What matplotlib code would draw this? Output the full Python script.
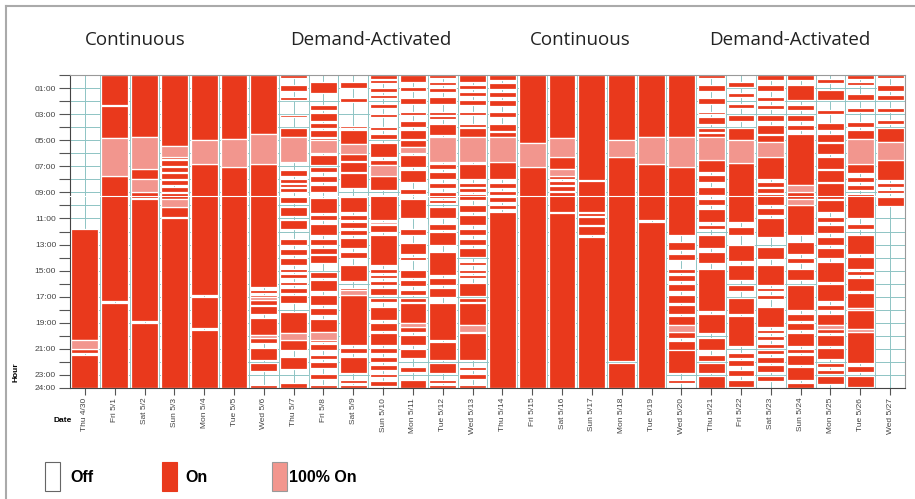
import matplotlib.pyplot as plt
import matplotlib.patches as mpatches
from matplotlib.lines import Line2D

# days along the x axis
dates = ['Thu 4/30', 'Fri 5/1', 'Sat 5/2', 'Sun 5/3', 'Mon 5/4', 'Tue 5/5', 'Wed 5/6',
         'Thu 5/7', 'Fri 5/8', 'Sat 5/9', 'Sun 5/10', 'Mon 5/11', 'Tue 5/12', 'Wed 5/13',
         'Thu 5/14', 'Fri 5/15', 'Sat 5/16', 'Sun 5/17', 'Mon 5/18', 'Tue 5/19', 'Wed 5/20',
         'Thu 5/21', 'Fri 5/22', 'Sat 5/23', 'Sun 5/24', 'Mon 5/25', 'Tue 5/26', 'Wed 5/27']

# "On" periods per day, (start hour, end hour)
on_periods = [
    [(11.8, 20.35), (21.0, 21.35), (21.45, 24)],
    [(0, 2.3), (2.4, 4.8), (7.75, 17.35), (17.45, 24)],
    [(0, 4.75), (7.2, 8.0), (9.0, 9.4), (9.5, 18.9), (19.0, 24)],
    [(0, 5.45), (6.25, 6.45), (6.55, 6.95), (7.05, 7.45), (7.55, 7.95), (8.05, 8.45),
     (8.55, 8.95), (9.05, 9.5), (10.1, 10.85), (10.95, 24)],
    [(0, 5.0), (6.8, 16.85), (17.05, 19.4), (19.55, 24)],
    [(0, 4.9), (7.05, 24)],
    [(0, 4.5), (6.8, 16.25), (16.45, 16.75), (16.85, 17.05), (17.25, 17.6), (17.75, 18.35),
     (18.6, 19.9), (20.2, 20.55), (20.95, 21.85), (22.1, 22.7), (23.75, 24)],
    [(0, 0.2), (0.8, 1.2), (1.7, 1.95), (3.05, 3.2), (4.1, 4.75), (7.3, 7.75), (7.95, 8.25),
     (8.35, 8.55), (8.65, 9.0), (9.35, 9.85), (10.1, 10.8), (11.1, 11.8), (12.55, 13.05),
     (13.35, 13.8), (14.05, 14.6), (14.9, 15.1), (15.25, 15.6), (15.85, 16.1), (16.3, 16.7),
     (16.9, 17.5), (18.2, 19.75), (20.3, 21.1), (21.6, 22.55), (23.65, 24)],
    [(0.5, 1.35), (2.3, 2.7), (2.95, 3.5), (3.7, 4.1), (4.2, 4.75), (4.8, 5.0), (6.15, 6.9),
     (7.05, 7.45), (7.75, 8.2), (8.4, 8.95), (9.45, 10.6), (10.75, 11.15), (11.4, 12.3),
     (12.55, 13.05), (13.3, 13.7), (13.8, 14.45), (15.1, 15.55), (15.75, 16.6), (16.85, 17.65),
     (17.9, 18.4), (18.7, 19.7), (20.3, 20.45), (20.6, 21.1), (21.45, 21.8), (22.0, 22.5),
     (22.9, 23.3), (23.8, 24)],
    [(0.5, 1.0), (1.75, 2.05), (3.9, 4.1), (4.2, 5.3), (6.05, 6.6), (6.7, 7.4), (7.5, 8.7),
     (9.35, 10.5), (10.75, 11.1), (11.3, 11.7), (11.9, 12.25), (12.5, 13.3), (13.55, 14.05),
     (14.6, 15.8), (16.3, 16.5), (16.9, 20.7), (20.9, 21.3), (21.6, 22.85), (23.4, 23.6),
     (23.8, 24)],
    [(0, 0.3), (0.4, 0.65), (1.0, 1.3), (1.5, 1.75), (2.2, 2.5), (3.0, 3.2), (4.0, 4.25),
     (4.5, 4.9), (5.25, 6.3), (6.55, 6.9), (7.75, 8.85), (9.2, 11.15), (11.5, 12.05),
     (12.3, 14.6), (14.85, 15.15), (15.3, 15.6), (15.8, 16.1), (16.3, 16.85), (17.1, 17.4),
     (17.8, 18.8), (19.05, 19.6), (19.8, 20.7), (20.95, 21.35), (21.6, 22.0), (22.25, 22.6),
     (22.9, 23.15), (23.5, 23.85)],
    [(0, 0.5), (0.9, 1.2), (1.75, 2.2), (2.8, 3.05), (3.55, 4.0), (4.25, 4.9), (5.0, 5.5),
     (6.15, 7.05), (7.3, 8.2), (8.75, 9.15), (9.5, 11.0), (11.8, 12.3), (12.85, 13.75),
     (13.95, 14.2), (14.94, 15.6), (15.7, 16.2), (16.5, 16.9), (17.1, 17.4), (17.5, 19.0),
     (19.35, 19.7), (19.9, 20.7), (21.0, 21.7), (22.4, 22.8), (23.4, 24)],
    [(0, 0.2), (0.5, 0.8), (1.0, 1.3), (1.7, 2.2), (2.8, 3.05), (3.15, 3.4), (3.75, 4.6),
     (6.8, 7.2), (7.45, 7.95), (8.3, 8.7), (8.95, 9.4), (9.6, 9.85), (10.1, 11.0),
     (11.4, 11.9), (12.05, 13.05), (13.55, 15.35), (15.6, 16.1), (16.3, 17.0), (17.5, 20.35),
     (20.45, 21.85), (22.1, 22.85), (23.4, 23.6), (23.8, 24)],
    [(0, 0.5), (0.75, 1.05), (1.3, 1.6), (1.95, 2.3), (2.8, 3.1), (3.75, 4.0), (4.1, 4.75),
     (6.8, 7.95), (8.25, 8.6), (8.7, 9.0), (9.15, 9.6), (9.95, 10.5), (10.75, 11.5),
     (11.8, 12.3), (12.55, 13.05), (13.3, 13.95), (14.35, 14.6), (14.94, 15.2), (15.3, 15.6),
     (15.96, 16.95), (17.1, 17.37), (17.5, 19.15), (19.8, 21.85), (22.4, 22.6), (22.9, 23.3),
     (23.75, 24)],
    [(0, 0.4), (0.65, 1.05), (1.3, 1.7), (1.95, 2.35), (2.8, 3.2), (3.75, 4.3), (4.4, 4.75),
     (6.65, 7.95), (8.25, 8.7), (8.9, 9.2), (9.35, 9.75), (9.95, 10.3), (10.5, 24)],
    [(0, 5.25), (7.05, 24)],
    [(0, 4.8), (6.3, 7.2), (7.75, 8.0), (8.1, 8.4), (8.5, 8.9), (9.0, 10.5), (10.6, 24)],
    [(0, 8.05), (8.15, 10.5), (10.6, 10.8), (10.9, 11.5), (11.6, 12.3), (12.4, 24)],
    [(0, 5.0), (6.3, 21.95), (22.05, 24)],
    [(0, 4.75), (6.8, 11.15), (11.3, 24)],
    [(0, 4.75), (7.05, 12.3), (12.8, 13.45), (13.7, 14.2), (14.9, 15.2), (15.3, 15.8),
     (16.0, 16.6), (16.9, 17.5), (17.6, 18.3), (18.5, 19.2), (19.7, 20.2), (20.4, 21.1),
     (21.1, 22.85), (23.35, 23.6)],
    [(0, 0.25), (0.8, 1.2), (1.75, 2.2), (2.8, 3.0), (3.2, 3.75), (4.05, 4.35), (4.45, 4.75),
     (6.55, 7.45), (7.7, 8.2), (8.6, 9.2), (9.5, 10.0), (10.25, 11.25), (11.5, 11.8),
     (12.3, 13.3), (13.55, 14.45), (14.85, 18.1), (18.35, 19.8), (20.15, 21.1), (21.45, 21.9),
     (22.1, 22.85), (23.1, 24)],
    [(0.5, 0.9), (1.4, 1.7), (2.2, 2.5), (3.05, 3.5), (4.05, 5.0), (6.75, 11.25),
     (11.65, 12.3), (13.05, 14.3), (14.6, 15.7), (16.1, 16.6), (17.1, 18.35), (18.45, 20.8),
     (21.3, 21.7), (21.85, 22.3), (22.6, 23.1), (23.4, 23.9)],
    [(0, 0.35), (0.8, 1.2), (1.7, 2.0), (2.3, 2.6), (3.05, 3.5), (3.85, 4.5), (4.6, 5.1),
     (6.3, 7.95), (8.2, 8.6), (8.7, 9.05), (9.15, 10.0), (10.2, 10.75), (11.0, 12.4),
     (13.2, 14.1), (14.6, 16.1), (16.3, 16.6), (16.9, 17.2), (17.8, 19.3), (19.55, 19.8),
     (20.05, 20.3), (20.6, 20.95), (21.05, 21.4), (21.6, 22.05), (22.25, 22.75), (23.1, 23.5)],
    [(0, 0.4), (0.8, 1.95), (2.3, 2.7), (3.1, 3.55), (3.85, 4.25), (4.5, 8.45), (8.95, 9.5),
     (10.0, 12.3), (12.8, 13.7), (14.05, 14.45), (14.85, 15.75), (16.1, 18.0), (18.3, 18.9),
     (19.05, 19.55), (19.8, 20.8), (21.0, 21.3), (21.5, 22.2), (22.4, 23.4), (23.6, 24)],
    [(0.3, 0.65), (1.15, 1.95), (2.7, 3.0), (3.7, 4.25), (4.5, 5.15), (5.25, 6.05), (6.3, 7.2),
     (7.3, 8.2), (8.3, 9.5), (9.6, 10.5), (10.9, 11.25), (11.5, 12.15), (12.4, 13.05),
     (13.3, 14.05), (14.35, 15.9), (16.0, 17.35), (17.6, 18.0), (18.3, 19.2), (19.5, 19.8),
     (19.95, 20.8), (20.9, 21.8), (22.05, 22.4), (22.65, 22.9), (23.05, 23.7)],
    [(0, 0.3), (0.55, 0.8), (1.45, 1.95), (2.55, 2.85), (3.6, 4.0), (4.25, 4.9), (6.8, 7.55),
     (7.8, 8.2), (8.45, 8.85), (9.1, 11.0), (11.4, 11.8), (12.3, 13.7), (13.95, 14.85),
     (15.0, 15.3), (15.6, 16.6), (16.7, 17.85), (18.0, 19.5), (19.7, 22.1), (22.3, 22.8),
     (23.1, 23.9)],
    [(0, 0.2), (0.75, 1.2), (1.55, 1.95), (2.55, 2.8), (3.45, 3.75), (4.1, 5.15), (6.55, 8.05),
     (8.3, 8.55), (8.8, 9.05), (9.35, 10.05)],
]

# "100% On" periods per day
full_periods = [
    [(20.35, 21.0)],
    [(4.8, 7.75)],
    [(4.75, 7.2), (8.0, 9.0)],
    [(5.45, 6.25), (9.5, 10.1)],
    [(5.0, 6.8)],
    [(4.9, 7.05)],
    [(4.5, 6.8), (17.05, 17.25), (19.9, 20.2)],
    [(4.75, 6.7), (19.75, 20.3)],
    [(5.0, 6.0), (19.7, 20.3)],
    [(5.3, 6.05), (16.5, 16.9)],
    [(6.9, 7.75), (11.25, 11.45)],
    [(5.5, 6.0), (19.0, 19.3)],
    [(4.75, 6.65)],
    [(4.75, 6.65), (19.15, 19.7)],
    [(4.75, 6.65)],
    [(5.25, 7.05)],
    [(4.8, 6.3), (7.2, 7.75)],
    [],
    [(5.0, 6.3)],
    [(4.75, 6.8)],
    [(4.75, 7.05), (19.2, 19.7)],
    [(4.75, 6.55)],
    [(5.0, 6.75)],
    [(5.1, 6.3)],
    [(8.45, 8.95), (9.5, 10.0)],
    [(19.2, 19.5)],
    [(4.9, 6.8), (17.85, 18.0), (19.5, 19.7)],
    [(5.15, 6.55)],
]

group_titles = ['Continuous', 'Demand-Activated', 'Continuous', 'Demand-Activated']

ON_COLOR = '#e9391c'
FULL_COLOR = '#f2968e'
GRID_COLOR = '#8ec4c4'

fig = plt.figure(figsize=(9.15, 4.99), dpi=100)
ax = fig.add_axes([70 / 915, 1 - 388 / 499, 835 / 915, 313 / 499])

for i in range(len(dates)):
    for start, end in on_periods[i]:
        ax.bar(i, end - start, bottom=start, width=0.9, color=ON_COLOR,
               edgecolor='white', linewidth=0.9, zorder=2)
    for start, end in full_periods[i]:
        ax.bar(i, end - start, bottom=start, width=0.9, color=FULL_COLOR,
               edgecolor='white', linewidth=0.9, zorder=2)

# thin white line running across all days
ax.axhline(9.27, color='white', lw=0.8, zorder=3)

ax.set_xlim(-0.5, len(dates) - 0.5)
ax.set_ylim(24, 0)

hours = list(range(0, 25))
hour_labels = []
for h in hours:
    if h % 2 == 1:
        hour_labels.append('%02d:00' % h)
    elif h == 24:
        hour_labels.append('24:00')
    else:
        hour_labels.append('')
ax.set_yticks(hours)
ax.set_yticklabels(hour_labels)
ax.set_xticks(range(len(dates)))
ax.set_xticklabels(dates, rotation=90)
ax.set_xticks([i + 0.5 for i in range(len(dates) - 1)], minor=True)

ax.set_axisbelow(True)
ax.grid(True, which='major', color=GRID_COLOR, lw=0.7)
ax.grid(True, which='minor', axis='x', color=GRID_COLOR, lw=0.7)
ax.tick_params(axis='both', which='major', direction='out', length=5, color='#555555',
               labelsize=6, labelcolor='#444444', pad=2)
ax.tick_params(axis='y', length=8)
ax.tick_params(axis='x', which='minor', length=0)
for lab in ax.get_xticklabels() + ax.get_yticklabels():
    lab.set_family('Liberation Sans')
for side in ['top', 'right']:
    ax.spines[side].set_color('#999999')
for side in ['left', 'bottom']:
    ax.spines[side].set_color('#444444')

# group headings
title_x = [135, 371, 580, 790]
for tx, title in zip(title_x, group_titles):
    fig.text(tx / 915, 1 - 40 / 499, title, ha='center', va='center',
             fontsize=13.5, family='Open Sans', color='#222222')

fig.text(16 / 915, 1 - 372 / 499, 'Hour', rotation=90, ha='center', va='center',
         fontsize=6, fontweight='bold', family='Liberation Sans')
fig.text(63 / 915, 1 - 420 / 499, 'Date', ha='center', va='center',
         fontsize=6, fontweight='bold', family='Liberation Sans')

# legend at the bottom
legend_items = [('Off', 'white', '#666666', 45, 70), ('On', ON_COLOR, ON_COLOR, 162, 185),
                ('100% On', FULL_COLOR, '#999999', 272, 289)]
for label, face, edge, lx, tx in legend_items:
    fig.add_artist(mpatches.Rectangle((lx / 915, 1 - 491 / 499), 15 / 915, 29 / 499,
                                      transform=fig.transFigure, facecolor=face,
                                      edgecolor=edge, lw=0.8))
    fig.text(tx / 915, 1 - 478 / 499, label, ha='left', va='center',
             fontsize=11.5, fontweight='bold', family='Liberation Sans')

# outer frame
fig.add_artist(Line2D([6 / 915, 1], [1 - 6 / 499, 1 - 6 / 499], transform=fig.transFigure,
                      color='#aaaaaa', lw=1.5))
fig.add_artist(Line2D([6 / 915, 6 / 915], [0, 1 - 6 / 499], transform=fig.transFigure,
                      color='#aaaaaa', lw=1.5))

fig.savefig('out.png', dpi=100)
